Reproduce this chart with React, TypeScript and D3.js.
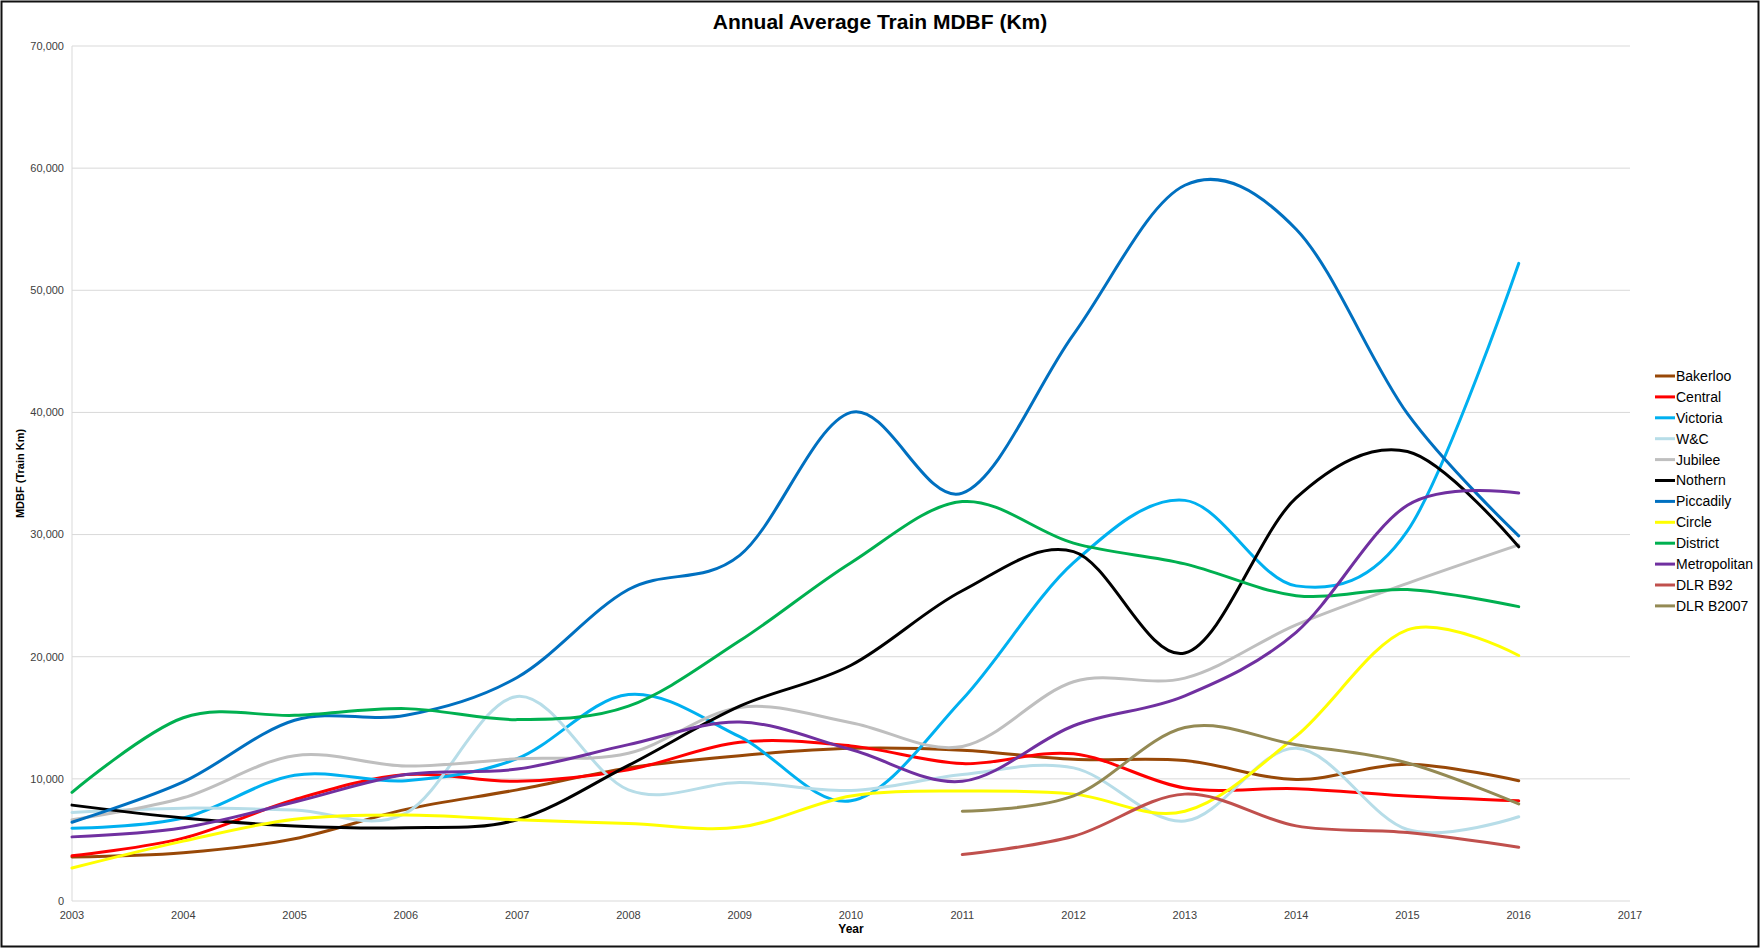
import React from 'react';
import * as d3 from 'd3';

const years = [2003, 2004, 2005, 2006, 2007, 2008, 2009, 2010, 2011, 2012, 2013, 2014, 2015, 2016];

const bakerloo = [3600, 3950, 5100, 7500, 9100, 10900, 11900, 12500, 12350, 11600, 11500, 9950, 11200, 9850];
const central = [3700, 5150, 8300, 10350, 9800, 10750, 13000, 12700, 11250, 12050, 9250, 9200, 8600, 8200];
const victoria = [5950, 6800, 10300, 9850, 11650, 16900, 13450, 8200, 16500, 27700, 32800, 25800, 30300, 52200];
const wc = [7250, 7600, 7450, 7200, 16750, 9100, 9700, 9050, 10350, 10900, 6550, 12500, 5850, 6900];
const jubilee = [6650, 8450, 11900, 11050, 11650, 12100, 15850, 14600, 12650, 17950, 18250, 22600, 26000, 29150];
const nothern = [7850, 6800, 6150, 6000, 6650, 11100, 15950, 19300, 25400, 28600, 20300, 33000, 36800, 29000];
const piccadily = [6450, 9750, 14800, 15200, 18300, 25500, 28300, 40000, 33400, 46400, 58600, 55000, 39900, 29900];
const circle = [2700, 4900, 6700, 7050, 6650, 6350, 6050, 8600, 9000, 8750, 7350, 13500, 22200, 20100];
const district = [8900, 15000, 15200, 15750, 14850, 15950, 21300, 27700, 32700, 29300, 27600, 25000, 25500, 24100];
const metropolitan = [5250, 6000, 8100, 10350, 10800, 12800, 14650, 12400, 9800, 14350, 16800, 22000, 32400, 33400];
const dlrB92 = [null, null, null, null, null, null, null, null, 3800, 5300, 8750, 6150, 5600, 4400];
const dlrB2007 = [null, null, null, null, null, null, null, null, 7350, 8600, 14200, 12800, 11300, 7950];

const seriesNames = ['Bakerloo', 'Central', 'Victoria', 'W&C', 'Jubilee', 'Nothern', 'Piccadily', 'Circle', 'District', 'Metropolitan', 'DLR B92', 'DLR B2007'];
const seriesValues = [bakerloo, central, victoria, wc, jubilee, nothern, piccadily, circle, district, metropolitan, dlrB92, dlrB2007];
const seriesColors = ['#984807', '#ff0000', '#00b0f0', '#b7dde8', '#bfbfbf', '#000000', '#0070c0', '#ffff00', '#00b050', '#7030a0', '#c0504d', '#948a54'];

const yTicks = [0, 10000, 20000, 30000, 40000, 50000, 60000, 70000];
const xTicks = [2003, 2004, 2005, 2006, 2007, 2008, 2009, 2010, 2011, 2012, 2013, 2014, 2015, 2016, 2017];

const W = 1760;
const H = 948;
const margin = { top: 46, right: 130, bottom: 47, left: 72 };

export default function App() {
  React.useEffect(() => {
    document.body.style.margin = '0';
  }, []);

  const x = d3.scaleLinear().domain([2003, 2017]).range([margin.left, W - margin.right]);
  const y = d3.scaleLinear().domain([0, 70000]).range([H - margin.bottom, margin.top]);

  const line = d3.line<number | null>()
    .defined(d => d != null)
    .x((_, i) => x(years[i]))
    .y(d => y(d as number))
    .curve(d3.curveCardinal.tension(0));

  const fmt = d3.format(',');
  const font = 'Liberation Sans, Arial, sans-serif';

  return (
    <svg width={W} height={H} style={{ display: 'block', fontFamily: font }}>
      <rect x={0} y={0} width={W} height={H} fill="#fff" />
      <rect x={1.5} y={1.5} width={W - 3} height={H - 3} fill="none" stroke="#111" strokeWidth={2} />

      <text x={W / 2} y={29} textAnchor="middle" fontSize={21} fontWeight="bold" fill="#000">
        Annual Average Train MDBF (Km)
      </text>

      {yTicks.map(t => (
        <g key={t}>
          <line x1={margin.left} x2={W - margin.right} y1={y(t)} y2={y(t)} stroke="#d9d9d9" strokeWidth={1} />
          <text x={margin.left - 8} y={y(t)} dy="0.35em" textAnchor="end" fontSize={11} fill="#404040">
            {fmt(t)}
          </text>
        </g>
      ))}
      <line x1={margin.left} x2={margin.left} y1={margin.top} y2={H - margin.bottom} stroke="#d9d9d9" strokeWidth={1} />

      {xTicks.map(t => (
        <text key={t} x={x(t)} y={H - margin.bottom + 18} textAnchor="middle" fontSize={11} fill="#404040">
          {t}
        </text>
      ))}

      <text x={(margin.left + W - margin.right) / 2} y={933} textAnchor="middle" fontSize={12} fontWeight="bold" fill="#000">
        Year
      </text>
      <text
        transform={`translate(24, ${(margin.top + H - margin.bottom) / 2}) rotate(-90)`}
        textAnchor="middle"
        fontSize={11}
        fontWeight="bold"
        fill="#000"
      >
        MDBF (Train Km)
      </text>

      {seriesValues.map((vals, i) => (
        <path
          key={seriesNames[i]}
          d={line(vals) || ''}
          fill="none"
          stroke={seriesColors[i]}
          strokeWidth={3}
          strokeLinecap="round"
        />
      ))}

      {seriesNames.map((name, i) => (
        <g key={name} transform={`translate(1655, ${376 + i * 20.9})`}>
          <line x1={0} x2={20} y1={0} y2={0} stroke={seriesColors[i]} strokeWidth={3} />
          <text x={21} y={0} dy="0.35em" fontSize={14} fill="#000">
            {name}
          </text>
        </g>
      ))}
    </svg>
  );
}
